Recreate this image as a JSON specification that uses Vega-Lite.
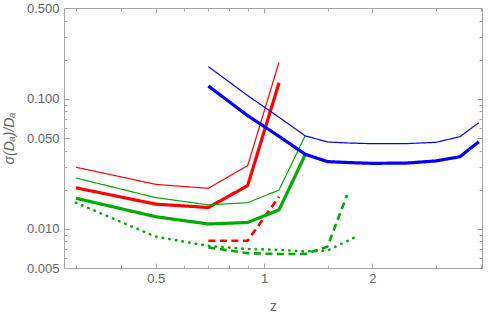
{
  "$schema": "https://vega.github.io/schema/vega-lite/v6.json",
  "width": 418,
  "height": 260,
  "autosize": "none",
  "padding": {"left": 64, "top": 8, "right": 9, "bottom": 50},
  "background": "white",
  "config": {
    "view": {"stroke": null},
    "axis": {
      "labelFont": "Liberation Sans",
      "titleFont": "Liberation Sans",
      "labelColor": "#666666",
      "titleColor": "#666666",
      "titleFontWeight": "normal",
      "domainColor": "#a6a6a6",
      "tickColor": "#a6a6a6",
      "grid": false,
      "labelFontSize": 13,
      "titleFontSize": 14,
      "labelOverlap": false,
      "labelFlush": false
    }
  },
  "data": {
    "values": [
      {"s": "red thin", "z": 0.3, "v": 0.0298},
      {"s": "red thin", "z": 0.5, "v": 0.022},
      {"s": "red thin", "z": 0.7, "v": 0.0205},
      {"s": "red thin", "z": 0.9, "v": 0.0306},
      {"s": "red thin", "z": 1.1, "v": 0.191},
      {"s": "red thick", "z": 0.3, "v": 0.0207},
      {"s": "red thick", "z": 0.5, "v": 0.0155},
      {"s": "red thick", "z": 0.7, "v": 0.0146},
      {"s": "red thick", "z": 0.9, "v": 0.0215},
      {"s": "red thick", "z": 1.1, "v": 0.133},
      {"s": "red dashed", "z": 0.7, "v": 0.0081},
      {"s": "red dashed", "z": 0.9, "v": 0.0081},
      {"s": "red dashed", "z": 1.1, "v": 0.0177},
      {"s": "green thin", "z": 0.3, "v": 0.0246},
      {"s": "green thin", "z": 0.5, "v": 0.0174},
      {"s": "green thin", "z": 0.7, "v": 0.0153},
      {"s": "green thin", "z": 0.9, "v": 0.0159},
      {"s": "green thin", "z": 1.1, "v": 0.0199},
      {"s": "green thin", "z": 1.3, "v": 0.052},
      {"s": "green thick", "z": 0.3, "v": 0.0172},
      {"s": "green thick", "z": 0.5, "v": 0.0124},
      {"s": "green thick", "z": 0.7, "v": 0.0109},
      {"s": "green thick", "z": 0.9, "v": 0.0112},
      {"s": "green thick", "z": 1.1, "v": 0.014},
      {"s": "green thick", "z": 1.3, "v": 0.037},
      {"s": "green dashed", "z": 0.7, "v": 0.0072},
      {"s": "green dashed", "z": 0.9, "v": 0.0065},
      {"s": "green dashed", "z": 1.1, "v": 0.0064},
      {"s": "green dashed", "z": 1.3, "v": 0.0064},
      {"s": "green dashed", "z": 1.5, "v": 0.0073},
      {"s": "green dashed", "z": 1.7, "v": 0.0182},
      {"s": "green dotted", "z": 0.3, "v": 0.0159},
      {"s": "green dotted", "z": 0.5, "v": 0.0087},
      {"s": "green dotted", "z": 0.7, "v": 0.0074},
      {"s": "green dotted", "z": 0.9, "v": 0.007},
      {"s": "green dotted", "z": 1.1, "v": 0.0069},
      {"s": "green dotted", "z": 1.3, "v": 0.0067},
      {"s": "green dotted", "z": 1.5, "v": 0.0068},
      {"s": "green dotted", "z": 1.8, "v": 0.0087},
      {"s": "blue thin", "z": 0.7, "v": 0.177},
      {"s": "blue thin", "z": 0.9, "v": 0.106},
      {"s": "blue thin", "z": 1.1, "v": 0.0722},
      {"s": "blue thin", "z": 1.3, "v": 0.052},
      {"s": "blue thin", "z": 1.5, "v": 0.0466},
      {"s": "blue thin", "z": 1.7, "v": 0.0458},
      {"s": "blue thin", "z": 2.0, "v": 0.0452},
      {"s": "blue thin", "z": 2.5, "v": 0.0453},
      {"s": "blue thin", "z": 3.0, "v": 0.0463},
      {"s": "blue thin", "z": 3.5, "v": 0.0512},
      {"s": "blue thin", "z": 3.95, "v": 0.0656},
      {"s": "blue thick", "z": 0.7, "v": 0.1256},
      {"s": "blue thick", "z": 0.9, "v": 0.0743},
      {"s": "blue thick", "z": 1.1, "v": 0.0515},
      {"s": "blue thick", "z": 1.3, "v": 0.0375},
      {"s": "blue thick", "z": 1.5, "v": 0.0329},
      {"s": "blue thick", "z": 1.7, "v": 0.0324},
      {"s": "blue thick", "z": 2.0, "v": 0.0319},
      {"s": "blue thick", "z": 2.5, "v": 0.0321},
      {"s": "blue thick", "z": 3.0, "v": 0.0333},
      {"s": "blue thick", "z": 3.5, "v": 0.0359},
      {"s": "blue thick", "z": 3.95, "v": 0.0468}
    ]
  },
  "layer": [
    {
      "transform": [{"filter": "datum.s != 'green dotted'"}],
      "mark": {"type": "line", "strokeCap": "butt", "strokeJoin": "round"},
      "encoding": {
        "x": {
          "field": "z", "type": "quantitative",
          "scale": {"type": "log", "domain": [0.278, 4.03], "nice": false},
          "axis": {
            "orient": "bottom",
            "values": [0.3, 0.4, 0.5, 0.6, 0.7, 0.8, 0.9, 1, 1.5, 2, 3, 4],
            "labelExpr": "datum.value == 0.5 ? '0.5' : datum.value == 1 ? '1' : datum.value == 2 ? '2' : ''",
            "tickSize": {"condition": {"test": "indexof([0.5, 1, 2], datum.value) >= 0", "value": -5}, "value": -3},
            "labelPadding": 9,
            "title": "z",
            "titleY": 42,
            "titleBaseline": "alphabetic"
          }
        },
        "y": {
          "field": "v", "type": "quantitative",
          "scale": {"type": "log", "domain": [0.005, 0.5], "nice": false},
          "axis": {
            "orient": "left",
            "values": [0.005, 0.006, 0.007, 0.008, 0.009, 0.01, 0.02, 0.03, 0.04, 0.05, 0.06, 0.07, 0.08, 0.09, 0.1, 0.2, 0.3, 0.4, 0.5],
            "labelExpr": "indexof([0.005, 0.01, 0.05, 0.1, 0.5], datum.value) >= 0 ? format(datum.value, '.3f') : ''",
            "tickSize": {"condition": {"test": "indexof([0.005, 0.01, 0.05, 0.1, 0.5], datum.value) >= 0", "value": -5}, "value": -3},
            "labelPadding": 10,
            "title": "σ(Dₐ)/Dₐ",
            "titleFontStyle": "italic",
            "titleX": -51,
            "titleY": 130,
            "titleAngle": -90,
            "titleAlign": "center",
            "titleBaseline": "alphabetic"
          }
        },
        "color": {
          "field": "s", "type": "nominal", "legend": null,
          "scale": {
            "domain": ["red thin", "red thick", "red dashed", "green thin", "green thick", "green dashed", "blue thin", "blue thick"],
            "range": ["#ff0000", "#ff0000", "#ff0000", "#00aa00", "#00aa00", "#00aa00", "#0000ff", "#0000ff"]
          }
        },
        "strokeWidth": {
          "field": "s", "type": "ordinal", "legend": null,
          "scale": {
            "type": "ordinal",
            "domain": ["red thin", "red thick", "red dashed", "green thin", "green thick", "green dashed", "blue thin", "blue thick"],
            "range": [1.2, 3.2, 2.6, 1.2, 3.2, 2.6, 1.2, 3.2]
          }
        },
        "strokeDash": {
          "field": "s", "type": "nominal", "legend": null,
          "scale": {
            "domain": ["red thin", "red thick", "red dashed", "green thin", "green thick", "green dashed", "blue thin", "blue thick"],
            "range": [[1, 0], [1, 0], [7, 4.5], [1, 0], [1, 0], [7, 4.5], [1, 0], [1, 0]]
          }
        }
      }
    },
    {
      "transform": [{"filter": "datum.s == 'green dotted'"}],
      "mark": {"type": "line", "strokeCap": "round", "strokeDash": [0.5, 6.2], "strokeWidth": 2.6, "color": "#00aa00"},
      "encoding": {
        "x": {"field": "z", "type": "quantitative", "axis": null},
        "y": {"field": "v", "type": "quantitative", "axis": null}
      }
    },
    {
      "mark": {"type": "line", "opacity": 0},
      "encoding": {
        "x": {
          "field": "z", "type": "quantitative",
          "axis": {
            "orient": "top",
            "values": [0.3, 0.4, 0.5, 0.6, 0.7, 0.8, 0.9, 1, 1.5, 2, 3, 4],
            "labels": false,
            "tickSize": {"condition": {"test": "indexof([0.5, 1, 2], datum.value) >= 0", "value": -5}, "value": -3},
            "title": null
          }
        },
        "y": {
          "field": "v", "type": "quantitative",
          "axis": {
            "orient": "right",
            "values": [0.005, 0.006, 0.007, 0.008, 0.009, 0.01, 0.02, 0.03, 0.04, 0.05, 0.06, 0.07, 0.08, 0.09, 0.1, 0.2, 0.3, 0.4, 0.5],
            "labels": false,
            "tickSize": {"condition": {"test": "indexof([0.005, 0.01, 0.05, 0.1, 0.5], datum.value) >= 0", "value": -5}, "value": -3},
            "title": null
          }
        },
        "detail": {"field": "s", "type": "nominal"}
      }
    }
  ],
  "resolve": {"axis": {"x": "independent", "y": "independent"}}
}
